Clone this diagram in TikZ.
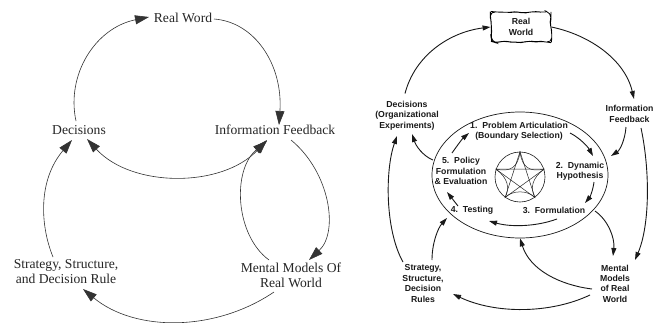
\documentclass[tikz,border=0pt]{standalone}
\usepackage{fontspec}
\setmainfont{Liberation Serif}
\setsansfont{Liberation Sans}
\usetikzlibrary{arrows.meta,shapes.geometric,decorations.pathmorphing}
\tikzset{
  lefttext/.style={align=center,inner sep=0pt,text=black!85,font=\rmfamily\fontsize{13.6}{15}\selectfont},
  righttext/.style={align=center,inner sep=0pt,text=black!90,font=\sffamily\bfseries\fontsize{8.7}{10.4}\selectfont},
  leftarrow/.style={draw=black!80,line width=0.6pt,-{Triangle[length=14pt,width=9pt]}},
  leftboth/.style={draw=black!80,line width=0.6pt,{Triangle[length=14pt,width=9pt]}-{Triangle[length=14pt,width=9pt]}},
  rightarrow/.style={draw=black!90,line width=0.9pt,-{Triangle[length=8pt,width=5pt]}},
  cloudbox/.style={draw=black,line width=0.8pt,rounded corners=5pt,minimum width=60pt,minimum height=30pt,
    decorate,decoration={random steps,segment length=5pt,amplitude=0.9pt}},
  loopring/.style={draw=black!90,line width=0.7pt,ellipse,minimum width=176pt,minimum height=126pt,inner sep=0pt},
  hubring/.style={draw=black!90,line width=0.6pt,circle,minimum size=50pt,inner sep=0pt},
  starline/.style={draw=black!85,line width=0.5pt}
}
\pgfmathsetseed{7}
\begin{document}
\begin{tikzpicture}[x=1pt,y=-1pt]
\useasboundingbox (0,0) rectangle (662,322);
\fill[white] (0,0) rectangle (662,322);
% LEFT DIAGRAM
\node[lefttext] (lreal) at (183,18) {Real Word};
\node[lefttext] (ldec) at (79,130) {Decisions};
\node[lefttext] (linfo) at (275,130) {Information Feedback};
\node[lefttext] (lment) at (291,275) {Mental Models Of\\Real World};
\node[lefttext] (lstra) at (66,272) {Strategy, Structure,\\and Decision Rule};
\draw[leftarrow] ([shift={(-3,-9)}]ldec.center) .. controls (66,75) and (95,28) .. ([shift={(-34,-1)}]lreal.center);
\draw[leftarrow] ([shift={(31,1)}]lreal.center) .. controls (255,22) and (283,65) .. ([shift={(4,-5)}]linfo.center);
\draw[leftboth] ([shift={(-8,10)}]linfo.center) .. controls (222,188) and (132,188) .. ([shift={(8,9)}]ldec.center);
\draw[leftarrow] ([shift={(16,10)}]linfo.center) .. controls (330,172) and (339,232) .. ([shift={(18,-15)}]lment.center);
\draw[leftarrow] ([shift={(-22,-15)}]lment.center) .. controls (235,235) and (232,170) .. ([shift={(-8,11)}]linfo.center);
\draw[leftarrow] ([shift={(-17,17)}]lment.center) .. controls (215,332) and (135,332) .. ([shift={(17,17)}]lstra.center);
\draw[leftarrow] ([shift={(-13,-15)}]lstra.center) .. controls (40,225) and (38,180) .. ([shift={(-7,10)}]ldec.center);
% RIGHT DIAGRAM
\node[cloudbox] (rcloud) at (521,27) {};
\node[righttext] (rreal) at (521,27) {Real\\World};
\node[righttext] (rdec) at (407,115.500) {Decisions\\(Organizational\\Experiments)};
\node[righttext] (rinfo) at (629.500,114) {Information\\Feedback};
\node[righttext] (rstra) at (423,283.500) {Strategy,\\Structure,\\Decision\\Rules};
\node[righttext] (rment) at (615,283.500) {Mental\\Models\\of Real\\World};
\node[loopring] (rloop) at (520,175) {};
\node[hubring] (rhub) at (520,177) {};
\node[righttext] (rone) at (519,131.500) {1.\ \ Problem Articulation\\(Boundary Selection)};
\node[righttext] (rtwo) at (580,171) {2.\ \ Dynamic\\Hypothesis};
\node[righttext] (rthree) at (554,210) {3.\ \ Formulation};
\node[righttext] (rfour) at (472,210) {4.\ \ Testing};
\node[righttext] (rfive) at (461,171) {5.\ \ Policy\\Formulation\\\&\ Evaluation};
% star
\path (rhub.90) coordinate (sa) (rhub.18) coordinate (sb) (rhub.-54) coordinate (sc) (rhub.-126) coordinate (sd) (rhub.162) coordinate (se);
\draw[starline] (sa) -- (sc) -- (se) -- (sb) -- (sd) -- cycle;
\draw[starline] (sa) .. controls (522,168) and (530,172) .. (sb);
\draw[starline] (sb) .. controls (532,178) and (530,188) .. (sc);
\draw[starline] (sc) .. controls (528,190) and (512,190) .. (sd);
\draw[starline] (sd) .. controls (510,188) and (508,178) .. (se);
\draw[starline] (se) .. controls (510,172) and (518,168) .. (sa);
% outer connectors
\draw[rightarrow] ([shift={(-2,-22)}]rdec.center) .. controls (415,55) and (450,32) .. (rcloud.west);
\draw[rightarrow] (rcloud.east) .. controls (590,35) and (625,60) .. ([shift={(4.500,-15)}]rinfo.center);
\draw[rightarrow] ([shift={(-3.500,13)}]rinfo.center) .. controls (625,140) and (620,150) .. ([shift={(91,-19)}]rloop.center);
\draw[rightarrow] ([shift={(11.500,14)}]rinfo.center) .. controls (650,170) and (650,225) .. ([shift={(20,-23.500)}]rment.center);
\draw[rightarrow] ([shift={(-87,-15)}]rloop.center) .. controls (423,156) and (416,146) .. ([shift={(5,18.500)}]rdec.center);
\draw[rightarrow] ([shift={(-20,-21.500)}]rstra.center) .. controls (385,230) and (385,170) .. ([shift={(-10,20.500)}]rdec.center);
\draw[rightarrow] ([shift={(9,-23.500)}]rstra.center) .. controls (432,243) and (438,228) .. ([shift={(-25,8)}]rfour.center);
\draw[rightarrow] ([shift={(-23,5.500)}]rment.center) .. controls (560,285) and (530,270) .. (rloop.south);
\draw[rightarrow] ([shift={(-25,11.500)}]rment.center) .. controls (550,314) and (495,314) .. ([shift={(30,10.500)}]rstra.center);
\draw[rightarrow] ([shift={(75,36)}]rloop.center) .. controls (608,220) and (615,238) .. ([shift={(-2,-27.500)}]rment.center);
% inner connectors
\draw[rightarrow] ([shift={(-9,-18)}]rfive.center) .. controls (457,146) and (462,139) .. ([shift={(-50,1.500)}]rone.center);
\draw[rightarrow] ([shift={(51,1.500)}]rone.center) .. controls (580,138) and (588,147) .. ([shift={(13,-15)}]rtwo.center);
\draw[rightarrow] ([shift={(14,11)}]rtwo.center) .. controls (593,190) and (590,197) .. ([shift={(31,-7)}]rthree.center);
\draw[rightarrow] ([shift={(3,9)}]rthree.center) .. controls (535,227) and (510,227) .. ([shift={(17,11)}]rfour.center);
\draw[rightarrow] ([shift={(-14,-4)}]rfour.center) -- ([shift={(-14,21)}]rfive.center);
\end{tikzpicture}
\end{document}
